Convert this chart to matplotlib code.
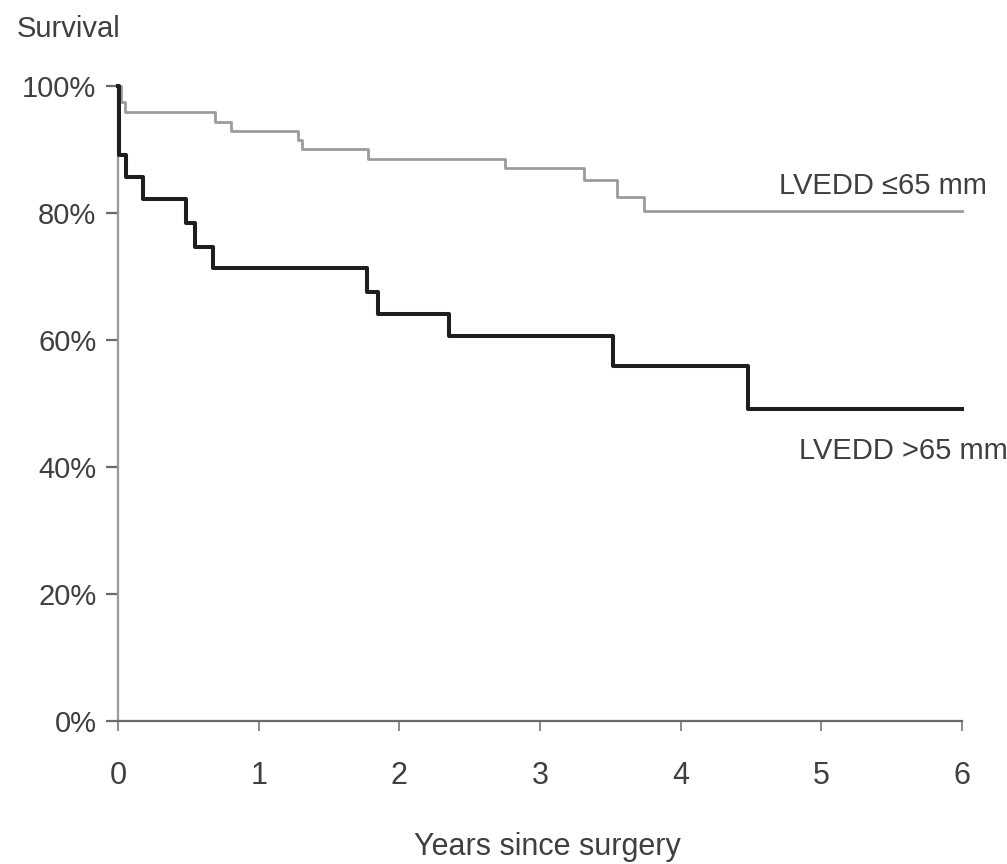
import matplotlib
matplotlib.use("Agg")
import matplotlib.pyplot as plt

plt.rcParams['font.family'] = ['Liberation Sans', 'DejaVu Sans']

# Kaplan-Meier steps (years, survival %)
t_small = [0, 0.02, 0.05, 0.69, 0.80, 1.28, 1.31, 1.78, 2.75, 3.31, 3.55, 3.74, 6.0]
s_small = [100, 97.5, 95.9, 94.3, 92.9, 91.5, 90.1, 88.5, 87.1, 85.2, 82.5, 80.3, 80.3]

t_large = [0, 0.01, 0.06, 0.18, 0.48, 0.55, 0.675, 1.77, 1.85, 2.35, 3.52, 4.48, 6.0]
s_large = [100, 89.1, 85.7, 82.2, 78.5, 74.6, 71.3, 67.6, 64.1, 60.6, 55.9, 49.1, 49.1]

x_ticks = [0, 1, 2, 3, 4, 5, 6]
y_ticks = [0, 20, 40, 60, 80, 100]
y_labels = ['0%', '20%', '40%', '60%', '80%', '100%']

text_col = '#3f3f3f'

fig = plt.figure(figsize=(10.07, 8.64), dpi=100)
ax = fig.add_axes([118/1007, 1 - 721/864, (962 - 118)/1007, (721 - 86)/864])

ax.step(t_small, s_small, where='post', color='#9c9c9c', lw=2.0, clip_on=False, zorder=3)
ax.step(t_large, s_large, where='post', color='#1e1e1e', lw=2.9, clip_on=False, zorder=4)

ax.set_xlim(0, 6)
ax.set_ylim(0, 100)

for side in ['top', 'right']:
    ax.spines[side].set_visible(False)
ax.spines['left'].set_color('#9a9a9a')
ax.spines['left'].set_linewidth(1.6)
ax.spines['bottom'].set_color('#6a6a6a')
ax.spines['bottom'].set_linewidth(1.6)

ax.set_xticks(x_ticks)
ax.set_xticklabels([str(v) for v in x_ticks])
ax.set_yticks(y_ticks)
ax.set_yticklabels(y_labels)
ax.tick_params(axis='y', direction='out', length=8.5, width=1.6, color='#6a6a6a',
               pad=7, labelsize=21, labelcolor=text_col)
ax.tick_params(axis='x', direction='out', length=7, width=1.4, color='#8a8a8a',
               pad=22, labelsize=22, labelcolor=text_col)

ax.text(4.70, 84.3, 'LVEDD \u226465 mm', fontsize=21, color=text_col, va='center', ha='left')
ax.text(4.84, 42.5, 'LVEDD >65 mm', fontsize=21, color=text_col, va='center', ha='left')

fig.text(17/1007, 1 - 29/864, 'Survival', fontsize=21, color=text_col, ha='left', va='center')
fig.text(547/1007, 1 - 847/864, 'Years since surgery', fontsize=22, color=text_col,
         ha='center', va='center')

fig.savefig('out.png', dpi=100, facecolor='white')
